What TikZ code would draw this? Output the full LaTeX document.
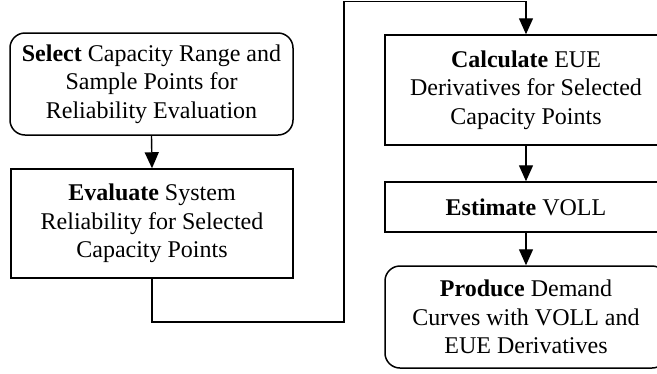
\documentclass[tikz,border=0pt]{standalone}
\usepackage{fontspec}
\setmainfont{Liberation Serif}
\usetikzlibrary{arrows.meta}
\begin{document}
\begin{tikzpicture}[x=1pt,y=-1pt,
  box/.style={draw=black,line width=1.5pt,align=center,inner sep=0pt,
    font=\fontsize{24}{28.5}\selectfont},
  rbox/.style={box,rounded corners=15pt},
  conn/.style={draw=black,line width=1.4pt},
  tip/.tip={Triangle[length=16pt 0 0,width=14pt 0 0]},
  arr/.style={conn,-tip}]
\clip (0,0) rectangle (657,373);
\fill[white] (0,0) rectangle (657,373);
\node[rbox,minimum width=283pt,minimum height=102pt] (select) at (151.5,84)
  {\textbf{Select} Capacity Range and\\Sample Points for\\Reliability Evaluation};
\node[box,minimum width=282pt,minimum height=109pt] (eval) at (152,223.5)
  {\textbf{Evaluate} System\\Reliability for Selected\\Capacity Points};
\node[box,minimum width=282pt,minimum height=110pt] (calc) at (526,90)
  {\textbf{Calculate} EUE\\Derivatives for Selected\\Capacity Points};
\node[box,minimum width=282pt,minimum height=50pt] (est) at (526,207)
  {\textbf{Estimate} VOLL};
\node[rbox,minimum width=282pt,minimum height=102pt] (prod) at (526,317)
  {\textbf{Produce} Demand\\Curves with VOLL and\\EUE Derivatives};
\coordinate (c1) at (152,322);
\coordinate (c2) at (344,322);
\coordinate (c3) at (344,1.5);
\coordinate (c4) at (526,1.5);
\draw[arr] (select.south) -- (eval.north);
\draw[arr] (eval.south) -- (c1) -- (c2) -- (c3) -- (c4) -- (calc.north);
\draw[arr] (calc.south) -- (est.north);
\draw[arr] (est.south) -- (prod.north);
\end{tikzpicture}
\end{document}
